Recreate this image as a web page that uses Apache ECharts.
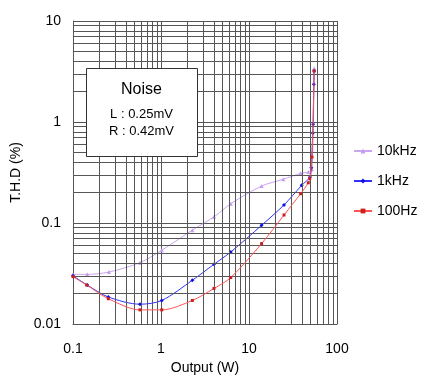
<!DOCTYPE html>
<html>
<head>
<meta charset="utf-8">
<script src="https://cdn.jsdelivr.net/npm/echarts@6/dist/echarts.min.js"></script>
<style>html,body{margin:0;padding:0;background:#fff;}#c{width:433px;height:388px;}</style>
</head>
<body>
<div id="c"></div>
<script>
// ---- data ----
const seriesNames = ['10kHz', '1kHz', '100Hz'];
const thd10k = [[0.1,0.031],[0.145,0.031],[0.256,0.0327],[0.577,0.0405],[1.02,0.0537],[2.27,0.085],[4.0,0.115],[6.2,0.155],[13.9,0.232],[24.5,0.271],[38.6,0.31],[47.2,0.32],[52,0.34],[55,3.4]];
const thd1k = [[0.1,0.03],[0.145,0.0243],[0.252,0.0185],[0.577,0.0157],[1.02,0.0171],[2.27,0.0271],[4.0,0.039],[6.2,0.0516],[13.9,0.0948],[25,0.151],[39.7,0.236],[49.3,0.285],[51,0.353],[53,0.78],[53.5,0.95],[54.5,2.36],[55,3.2]];
const thd100 = [[0.1,0.0294],[0.143,0.0243],[0.252,0.0178],[0.577,0.0138],[1.02,0.0138],[2.27,0.0171],[4.0,0.0225],[6.2,0.0288],[13.9,0.0625],[25,0.12],[38.6,0.195],[47.2,0.25],[49,0.276],[52,0.45],[55,3.2]];
const xMinorGrid = [0.2,0.3,0.4,0.5,0.6,0.7,0.8,0.9,2,3,4,5,6,7,8,9,20,30,40,50,60,70,80,90];
const yMinorGrid = [0.02,0.03,0.04,0.05,0.06,0.07,0.08,0.09,0.2,0.3,0.4,0.5,0.6,0.7,0.8,0.9,2,3,4,5,6,7,8,9];
const xTickLabels = ['0.1','1','10','100'];
const yTickLabels = ['0.01','0.1','1','10'];
const noiseLines = ['Noise', 'L : 0.25mV', 'R : 0.42mV'];

const FONT = 'Liberation Sans, Arial, sans-serif';
const GRID = '#555';
const chart = echarts.init(document.getElementById('c'));

const fmt = (list) => (v) => {
  const s = String(+v.toPrecision(3));
  return list.includes(s) ? s : '';
};

const markData = xMinorGrid.map(v => ({xAxis: v})).concat(yMinorGrid.map(v => ({yAxis: v})));

chart.setOption({
  animation: false,
  backgroundColor: '#fff',
  grid: {left: 73, right: 96, top: 21, bottom: 64, containLabel: false},
  xAxis: {
    type: 'log', logBase: 10, min: 0.1, max: 100,
    name: 'Output (W)', nameLocation: 'middle', nameGap: 32,
    nameTextStyle: {fontSize: 14, fontFamily: FONT, color: '#000'},
    axisLine: {show: true, lineStyle: {color: GRID, width: 1}},
    axisTick: {show: false},
    axisLabel: {fontSize: 14, fontFamily: FONT, color: '#000', margin: 18, formatter: fmt(xTickLabels)},
    splitLine: {show: true, lineStyle: {color: GRID, width: 1}},
    minorTick: {show: false}, minorSplitLine: {show: false}
  },
  yAxis: {
    type: 'log', logBase: 10, min: 0.01, max: 10,
    name: 'T.H.D (%)', nameLocation: 'middle', nameGap: 43, nameRotate: 90,
    nameTextStyle: {fontSize: 14, fontFamily: FONT, color: '#000'},
    axisLine: {show: true, lineStyle: {color: GRID, width: 1}},
    axisTick: {show: false},
    axisLabel: {fontSize: 14, fontFamily: FONT, color: '#000', margin: 12, formatter: fmt(yTickLabels)},
    splitLine: {show: true, lineStyle: {color: GRID, width: 1}},
    minorTick: {show: false}, minorSplitLine: {show: false}
  },
  legend: {
    data: seriesNames,
    orient: 'vertical', left: 348, top: 139,
    itemWidth: 18, itemHeight: 6, itemGap: 16,
    textStyle: {fontSize: 14, fontFamily: FONT, color: '#000'}
  },
  graphic: [
    {type: 'rect', left: 86, top: 68, z: 200, zlevel: 1, shape: {width: 111, height: 88}, style: {fill: '#fff', stroke: '#333', lineWidth: 1}},
    {type: 'text', x: 141.5, y: 90, z: 201, zlevel: 1, style: {text: noiseLines[0], fontSize: 16, fontFamily: FONT, fill: '#000', align: 'center', verticalAlign: 'middle'}},
    {type: 'text', x: 141.5, y: 114, z: 201, zlevel: 1, style: {text: noiseLines[1], fontSize: 13, fontFamily: FONT, fill: '#000', align: 'center', verticalAlign: 'middle'}},
    {type: 'text', x: 141.5, y: 131, z: 201, zlevel: 1, style: {text: noiseLines[2], fontSize: 13, fontFamily: FONT, fill: '#000', align: 'center', verticalAlign: 'middle'}}
  ],
  series: [
    {
      type: 'line', name: '', data: [], z: 1, silent: true,
      markLine: {silent: true, symbol: 'none', label: {show: false}, animation: false,
        lineStyle: {color: GRID, width: 1, type: 'solid'}, emphasis: {disabled: true}, data: markData}
    },
    {
      type: 'line', name: seriesNames[0], data: thd10k, z: 3, smooth: 0.3,
      symbol: 'triangle', symbolSize: 4,
      lineStyle: {color: '#c9a6f2', width: 1}, itemStyle: {color: '#c49bf0'}
    },
    {
      type: 'line', name: seriesNames[1], data: thd1k, z: 4, smooth: 0.3,
      symbol: 'diamond', symbolSize: 4,
      lineStyle: {color: '#3030ff', width: 1}, itemStyle: {color: '#1010e0'}
    },
    {
      type: 'line', name: seriesNames[2], data: thd100, z: 5, smooth: 0.3,
      symbol: 'rect', symbolSize: 3,
      lineStyle: {color: '#ff5555', width: 1}, itemStyle: {color: '#cc2020'}
    }
  ]
});
</script>
</body>
</html>
